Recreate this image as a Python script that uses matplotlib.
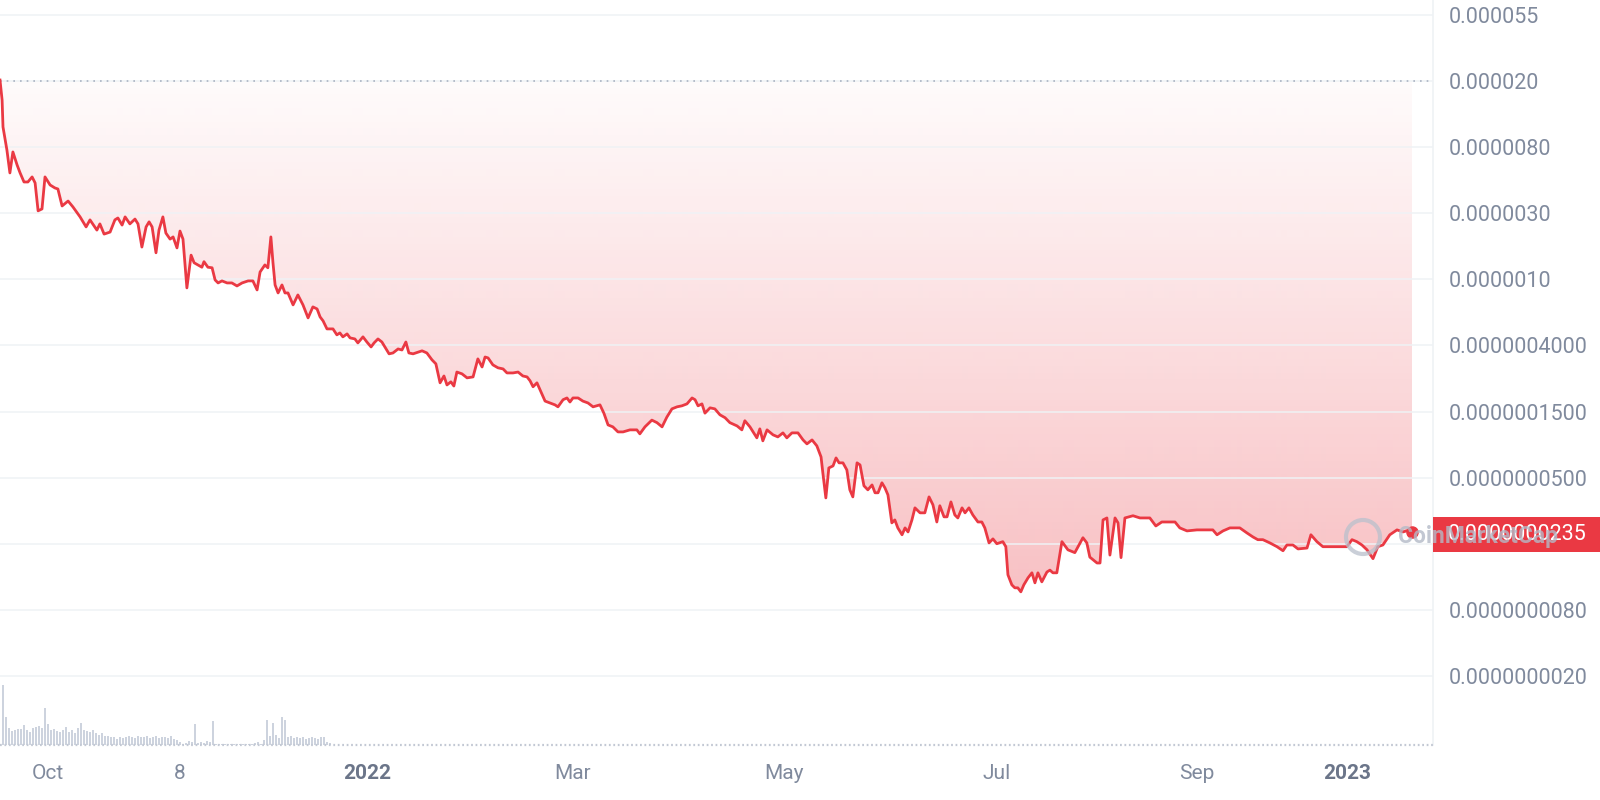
import numpy as np
import matplotlib
matplotlib.use("Agg")
import matplotlib.pyplot as plt
from matplotlib.patches import Rectangle, Circle
from matplotlib.ticker import NullLocator, NullFormatter
import matplotlib.transforms as mtransforms

plt.rcParams['font.family'] = ['Roboto', 'DejaVu Sans']

# ---------------- data ----------------
days = [
    0.0, 0.7, 1.0, 2.3, 3.3, 4.3, 5.7, 6.7, 8.0, 9.3,
    10.7, 11.7, 12.7, 14.0, 15.0, 16.7, 18.3, 19.3, 20.7, 22.7,
    24.3, 26.7, 28.7, 30.0, 32.3, 33.3, 34.7, 36.7, 38.3, 39.3,
    40.7, 41.7, 43.3, 45.0, 46.0, 47.3, 48.7, 49.7, 50.7, 52.0,
    53.0, 54.3, 55.3, 56.7, 57.7, 59.0, 60.0, 61.0, 62.3, 63.7,
    64.7, 66.0, 67.3, 68.0, 69.3, 70.7, 71.7, 72.7, 74.0, 75.7,
    77.3, 79.0, 80.7, 82.7, 84.3, 85.7, 86.7, 88.3, 89.3, 90.3,
    91.0, 91.7, 92.7, 94.0, 95.0, 96.0, 97.7, 99.3, 101.0, 102.7,
    104.3, 105.7, 106.7, 107.7, 109.0, 111.0, 112.3, 113.3, 114.3, 115.7,
    116.7, 118.3, 119.3, 121.0, 122.3, 123.7, 124.7, 126.0, 127.3, 129.7,
    131.0, 132.7, 134.0, 135.3, 136.3, 137.7, 140.7, 142.3, 144.0, 145.3,
    146.7, 148.0, 149.0, 150.3, 151.3, 152.3, 154.0, 155.7, 157.7, 159.3,
    160.7, 161.7, 162.7, 164.3, 166.0, 167.7, 169.0, 171.0, 172.7, 174.3,
    175.7, 176.7, 177.7, 179.0, 180.3, 181.7, 183.3, 185.0, 186.0, 187.7,
    189.0, 190.0, 191.0, 192.7, 194.3, 196.0, 197.7, 200.0, 201.3, 202.7,
    204.3, 206.0, 207.7, 210.0, 212.3, 213.3, 215.0, 217.3, 219.0, 220.7,
    222.3, 224.0, 225.7, 227.3, 229.0, 230.7, 231.7, 232.7, 234.0, 235.0,
    236.7, 238.3, 240.0, 241.7, 243.3, 245.7, 247.3, 248.3, 250.0, 252.3,
    253.3, 254.3, 255.7, 257.7, 259.3, 261.0, 262.3, 264.0, 266.0, 267.7,
    269.0, 270.7, 272.3, 273.7, 274.3, 275.3, 276.3, 277.7, 278.7, 279.7,
    281.0, 282.3, 283.3, 284.3, 285.7, 286.7, 288.0, 289.3, 290.7, 291.7,
    292.7, 294.0, 295.0, 296.0, 297.3, 298.3, 299.3, 300.7, 301.7, 302.7,
    304.0, 305.0, 306.7, 308.3, 309.7, 311.0, 312.3, 313.3, 314.7, 315.7,
    317.0, 318.3, 319.3, 320.7, 321.7, 323.0, 324.3, 326.0, 327.3, 328.3,
    329.7, 331.0, 332.3, 334.3, 335.3, 336.0, 337.3, 338.3, 339.3, 340.3,
    341.3, 342.7, 344.0, 345.0, 346.0, 347.3, 349.0, 350.0, 351.0, 352.3,
    354.0, 356.0, 358.3, 361.0, 362.3, 363.3, 365.7, 366.7, 367.7, 369.0,
    370.0, 371.7, 372.7, 373.7, 375.0, 377.7, 380.0, 383.3, 385.3, 387.3,
    391.7, 393.3, 395.7, 399.0, 404.3, 405.7, 407.7, 410.0, 413.3, 415.7,
    417.7, 419.3, 421.0, 423.3, 425.7, 427.7, 429.0, 431.0, 432.7, 435.7,
    437.0, 439.0, 441.0, 444.3, 449.0, 450.7, 452.3, 454.0, 455.7, 457.7,
    459.3, 461.0, 463.3, 465.7, 467.7, 470.0, 470.7,
]

price = [
    2.03e-5, 1.49e-5, 9.82e-6, 6.88e-6, 4.82e-6, 6.67e-6, 5.45e-6, 4.82e-6, 4.19e-6, 4.19e-6,
    4.53e-6, 4.13e-6, 2.68e-6, 2.76e-6, 4.53e-6, 4.00e-6, 3.82e-6, 3.76e-6, 2.89e-6, 3.12e-6,
    2.85e-6, 2.44e-6, 2.09e-6, 2.33e-6, 1.99e-6, 2.19e-6, 1.87e-6, 1.93e-6, 2.33e-6, 2.40e-6,
    2.15e-6, 2.44e-6, 2.19e-6, 2.36e-6, 2.19e-6, 1.53e-6, 2.09e-6, 2.26e-6, 2.09e-6, 1.40e-6,
    1.99e-6, 2.44e-6, 1.90e-6, 1.73e-6, 1.79e-6, 1.51e-6, 1.96e-6, 1.73e-6, 8.13e-7, 1.35e-6,
    1.20e-6, 1.16e-6, 1.12e-6, 1.22e-6, 1.12e-6, 1.11e-6, 9.20e-7, 8.78e-7, 9.06e-7, 8.78e-7,
    8.78e-7, 8.38e-7, 8.78e-7, 9.06e-7, 9.06e-7, 7.88e-7, 1.04e-6, 1.16e-6, 1.11e-6, 1.79e-6,
    1.20e-6, 8.51e-7, 7.52e-7, 8.51e-7, 7.52e-7, 7.52e-7, 6.25e-7, 7.29e-7, 6.25e-7, 5.11e-7,
    6.06e-7, 5.87e-7, 5.19e-7, 4.88e-7, 4.31e-7, 4.31e-7, 3.93e-7, 4.05e-7, 3.81e-7, 3.99e-7,
    3.75e-7, 3.69e-7, 3.47e-7, 3.81e-7, 3.52e-7, 3.26e-7, 3.47e-7, 3.69e-7, 3.52e-7, 2.93e-7,
    2.97e-7, 3.16e-7, 3.11e-7, 3.52e-7, 2.97e-7, 2.93e-7, 3.07e-7, 2.97e-7, 2.67e-7, 2.51e-7,
    1.87e-7, 2.08e-7, 1.81e-7, 1.90e-7, 1.78e-7, 2.21e-7, 2.15e-7, 2.02e-7, 2.05e-7, 2.71e-7,
    2.39e-7, 2.79e-7, 2.75e-7, 2.47e-7, 2.36e-7, 2.32e-7, 2.18e-7, 2.18e-7, 2.21e-7, 2.08e-7,
    2.05e-7, 1.93e-7, 1.76e-7, 1.87e-7, 1.63e-7, 1.41e-7, 1.37e-7, 1.33e-7, 1.29e-7, 1.44e-7,
    1.48e-7, 1.39e-7, 1.48e-7, 1.48e-7, 1.41e-7, 1.37e-7, 1.29e-7, 1.33e-7, 1.17e-7, 9.75e-8,
    9.46e-8, 8.75e-8, 8.75e-8, 9.03e-8, 9.03e-8, 8.49e-8, 9.46e-8, 1.05e-7, 1.01e-7, 9.46e-8,
    1.10e-7, 1.25e-7, 1.29e-7, 1.31e-7, 1.35e-7, 1.48e-7, 1.44e-7, 1.31e-7, 1.35e-7, 1.17e-7,
    1.27e-7, 1.25e-7, 1.14e-7, 1.09e-7, 1.01e-7, 9.60e-8, 9.03e-8, 1.04e-7, 9.46e-8, 7.98e-8,
    9.17e-8, 7.62e-8, 9.03e-8, 8.36e-8, 8.10e-8, 8.62e-8, 7.98e-8, 8.62e-8, 8.62e-8, 7.73e-8,
    7.27e-8, 7.73e-8, 7.05e-8, 5.94e-8, 4.64e-8, 3.15e-8, 5.01e-8, 5.17e-8, 5.85e-8, 5.42e-8,
    5.42e-8, 4.86e-8, 3.57e-8, 3.20e-8, 5.42e-8, 5.25e-8, 3.80e-8, 3.57e-8, 3.85e-8, 3.41e-8,
    3.41e-8, 3.98e-8, 3.68e-8, 3.30e-8, 2.14e-8, 2.24e-8, 1.98e-8, 1.78e-8, 1.98e-8, 1.86e-8,
    2.24e-8, 2.70e-8, 2.50e-8, 2.50e-8, 3.20e-8, 2.83e-8, 2.17e-8, 2.79e-8, 2.35e-8, 2.35e-8,
    2.96e-8, 2.42e-8, 2.31e-8, 2.70e-8, 2.50e-8, 2.70e-8, 2.42e-8, 2.17e-8, 2.17e-8, 1.98e-8,
    1.57e-8, 1.67e-8, 1.55e-8, 1.60e-8, 1.48e-8, 9.58e-9, 8.20e-9, 7.83e-9, 7.83e-9, 7.36e-9,
    8.20e-9, 9.14e-9, 9.88e-9, 8.46e-9, 9.88e-9, 8.59e-9, 1.00e-8, 1.03e-8, 9.88e-9, 9.88e-9,
    1.60e-8, 1.41e-8, 1.35e-8, 1.70e-8, 1.57e-8, 1.26e-8, 1.15e-8, 1.15e-8, 2.24e-8, 2.31e-8,
    1.30e-8, 2.31e-8, 2.14e-8, 1.25e-8, 2.31e-8, 2.39e-8, 2.31e-8, 2.31e-8, 2.04e-8, 2.17e-8,
    2.17e-8, 1.98e-8, 1.89e-8, 1.92e-8, 1.92e-8, 1.78e-8, 1.89e-8, 1.98e-8, 1.98e-8, 1.83e-8,
    1.72e-8, 1.65e-8, 1.65e-8, 1.57e-8, 1.48e-8, 1.39e-8, 1.52e-8, 1.52e-8, 1.43e-8, 1.45e-8,
    1.78e-8, 1.60e-8, 1.48e-8, 1.48e-8, 1.48e-8, 1.65e-8, 1.60e-8, 1.52e-8, 1.41e-8, 1.23e-8,
    1.48e-8, 1.52e-8, 1.78e-8, 1.92e-8, 1.86e-8, 1.92e-8, 1.86e-8,
]

vol_days = list(range(1, 111))
volume = [
    60, 28, 17, 14, 15, 16, 16, 20, 15, 13,
    17, 18, 19, 17, 37, 21, 15, 16, 14, 13,
    15, 18, 13, 15, 12, 17, 22, 15, 14, 13,
    15, 12, 10, 12, 9, 9, 8, 8, 6, 8,
    7, 8, 9, 8, 7, 9, 8, 8, 9, 7,
    8, 9, 7, 8, 8, 7, 9, 6, 5, 3,
    1, 2, 4, 3, 21, 2, 3, 2, 4, 3,
    24, 1, 1, 1, 1, 1, 1, 1, 1, 1,
    1, 1, 1, 1, 2, 3, 1, 5, 25, 9,
    22, 10, 7, 28, 25, 8, 9, 7, 8, 7,
    8, 6, 7, 8, 7, 6, 8, 8, 3, 2,
]

start_price = 2.0e-5
last_price_label = "0.0000000235"
ytick_labels = ["0.000055", "0.000020", "0.0000080", "0.0000030", "0.0000010",
                "0.0000004000", "0.0000001500", "0.0000000500", "",
                "0.0000000080", "0.0000000020"]
xtick_days = [16.0, 60.0, 122.3, 191.0, 261.3, 332.3, 399.0, 449.0]
xtick_labels = ["Oct", "8", "2022", "Mar", "May", "Jul", "Sep", "2023"]

# ---------------- style ----------------
RED = "#ea3943"
GRID = "#eff2f5"
LABEL = "#808a9d"
W, H = 1600, 800
PLOT_W, PLOT_H = 1433, 745      # plot area in pixels
BASE_FROM_TOP = 81              # pixel row of the start price
PX_PER_DECADE = 148.75

fig = plt.figure(figsize=(W / 100, H / 100), dpi=100)
fig.patch.set_facecolor("white")
rect = [0, (H - PLOT_H) / H, PLOT_W / W, PLOT_H / H]

gax = fig.add_axes(rect, zorder=0)
gax.axis("off")
ax = fig.add_axes(rect, zorder=1)
ax.patch.set_alpha(0)
vax = fig.add_axes(rect, zorder=2, sharex=ax)
vax.patch.set_alpha(0)

# price axis
ax.set_yscale("log")
ymax = start_price * 10 ** (BASE_FROM_TOP / PX_PER_DECADE)
ymin = start_price * 10 ** (-(PLOT_H - BASE_FROM_TOP) / PX_PER_DECADE)
ax.set_xlim(0, 477.7)
ax.set_ylim(ymin, ymax)

tick_pos = np.geomspace(start_price * 10 ** (4 / 9), start_price * 1e-4, 11)
ax.set_yticks(tick_pos)
ax.set_yticklabels(ytick_labels)
ax.yaxis.set_minor_locator(NullLocator())
ax.yaxis.set_minor_formatter(NullFormatter())
ax.yaxis.tick_right()
ax.tick_params(axis="y", length=0, pad=11, labelsize=15.5, labelcolor=LABEL)
ax.grid(axis="y", color=GRID, lw=1.1)
ax.grid(axis="x", visible=False)

ax.set_xticks(xtick_days, xtick_labels)
ax.tick_params(axis="x", length=0, pad=14, labelsize=15, labelcolor=LABEL)
for t in ax.get_xticklabels():
    if t.get_text() in ("2022", "2023"):
        t.set_fontweight("bold")
        t.set_color("#6b7589")

for s in ("top", "left", "bottom"):
    ax.spines[s].set_visible(False)
ax.spines["right"].set_color(GRID)
ax.spines["right"].set_linewidth(1.2)

# starting-price dotted reference line
ax.axhline(start_price, color="#a9b2c2", lw=1.2, ls=(0, (1, 3)), zorder=2.5)

# gradient fill between line and start price
poly = ax.fill_between(days, price, start_price, facecolor="none", edgecolor="none")
clip_path = poly.get_paths()[0]
rows = np.arange(PLOT_H)
alpha = np.clip((rows - BASE_FROM_TOP) / 519.0 * 0.30 + 0.02, 0, 0.33)
img = np.zeros((PLOT_H, 1, 4))
img[..., 0] = 234 / 255
img[..., 1] = 57 / 255
img[..., 2] = 67 / 255
img[:, 0, 3] = alpha
gax.set_xlim(0, 1)
gax.set_ylim(0, 1)
im = gax.imshow(img, extent=[0, 1, 0, 1], aspect="auto", origin="upper",
                interpolation="bilinear")
im.set_clip_path(clip_path, transform=ax.transData)

# price line + end dot
ax.plot(days, price, color=RED, lw=2.0, solid_joinstyle="round", zorder=3)
ax.plot([days[-1]], [price[-1]], "o", ms=8, color=RED, zorder=4)

# volume bars
vax.bar(vol_days, volume, width=0.45, color="#cdd3de", align="center")
vax.set_ylim(0, max(volume) * PLOT_H / 60)
vax.axhline(0, color="#c3c9d4", lw=1.6, ls=(0, (0.8, 1.2)), clip_on=False)
vax.axis("off")
ax.set_xlim(0, 477.7)

# price tag on the right
fig.canvas.draw()
yc = ax.transData.transform((days[-1], price[-1]))[1] - 3
ident = mtransforms.IdentityTransform()
fig.add_artist(Rectangle((PLOT_W, yc - 17.5), W - PLOT_W, 35, transform=ident,
                         facecolor=RED, edgecolor="none", zorder=5))
fig.text(1448, yc, last_price_label, transform=ident, color="white",
         fontsize=15.5, va="center", ha="left", zorder=6)

# watermark
fig.add_artist(Circle((1363, H - 537), 17, transform=ident, facecolor="none",
                      edgecolor="#b9c0cc", lw=3, alpha=0.75, zorder=7))
fig.text(1398, H - 537, "CoinMarketCap", transform=ident, color="#b3bac7",
         alpha=0.8, fontsize=16.5, fontweight="bold", va="center", ha="left",
         zorder=8)

fig.savefig("out.png", dpi=100)
